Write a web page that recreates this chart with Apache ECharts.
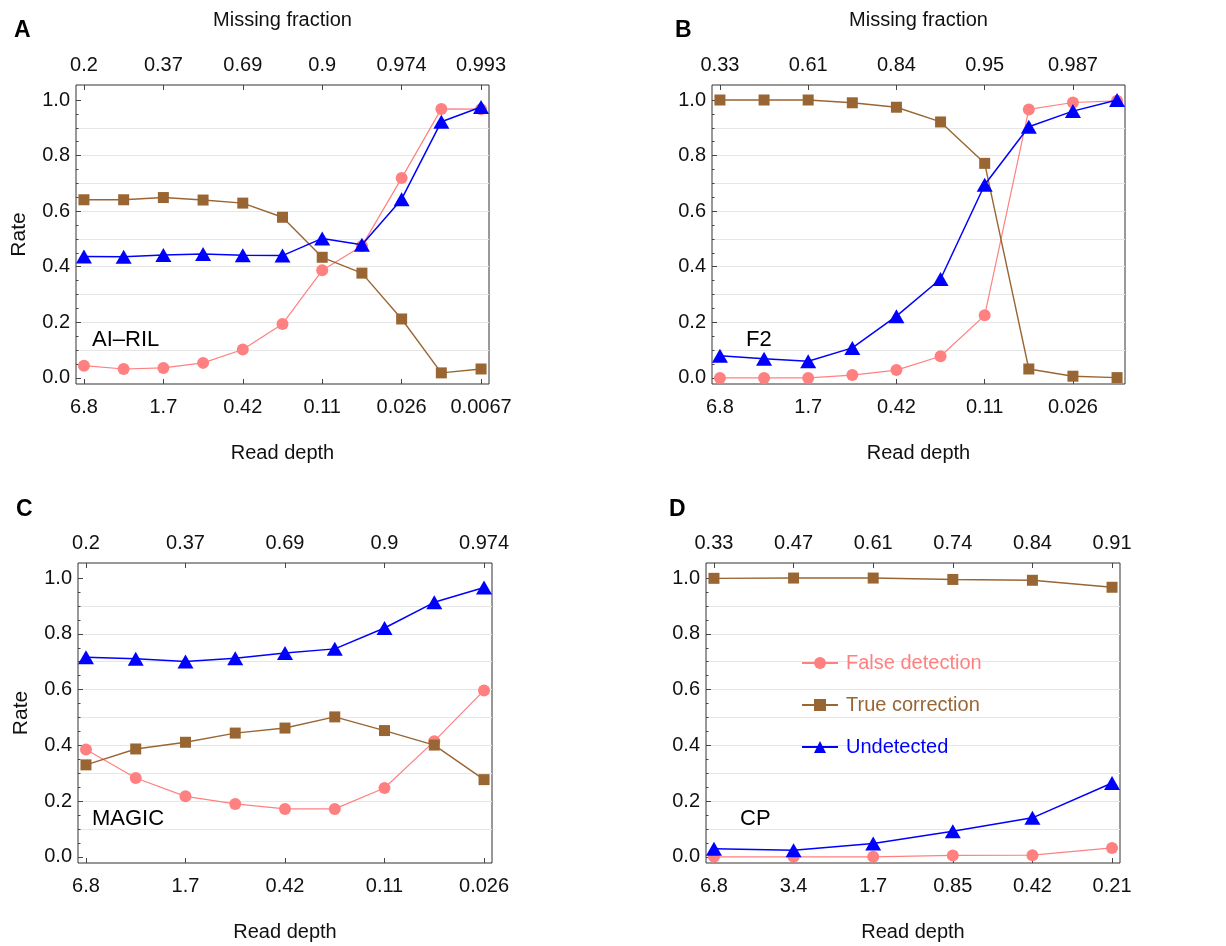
<!DOCTYPE html>
<html>
<head>
<meta charset="utf-8">
<script src="https://cdn.jsdelivr.net/npm/echarts@6/dist/echarts.min.js"></script>
<style>
  html, body { margin: 0; padding: 0; background: #ffffff; }
  #chart { width: 1226px; height: 946px; }
</style>
</head>
<body>
<div id="chart"></div>
<script>
// ---- Data -------------------------------------------------------------
const seriesNames = ['False detection', 'True correction', 'Undetected'];

// AI-RIL (panel A): read depth 6.8 ... 0.0067, halving each step
const falseDetA = [0.044, 0.032, 0.036, 0.054, 0.102, 0.194, 0.387, 0.475, 0.719, 0.968, 0.967];
const trueCorrA = [0.641, 0.641, 0.649, 0.640, 0.629, 0.578, 0.434, 0.377, 0.212, 0.018, 0.032];
const undetA    = [0.437, 0.436, 0.442, 0.446, 0.441, 0.440, 0.502, 0.479, 0.643, 0.922, 0.975];
const depthTicksA = ['6.8', '1.7', '0.42', '0.11', '0.026', '0.0067'];
const missTicksA  = ['0.2', '0.37', '0.69', '0.9', '0.974', '0.993'];

// F2 (panel B)
const falseDetB = [0.000, 0.000, 0.000, 0.010, 0.028, 0.078, 0.225, 0.966, 0.991, 0.997];
const trueCorrB = [1.000, 1.000, 1.000, 0.990, 0.974, 0.921, 0.772, 0.032, 0.006, 0.001];
const undetB    = [0.080, 0.069, 0.060, 0.108, 0.222, 0.356, 0.695, 0.904, 0.960, 1.000];
const depthTicksB = ['6.8', '1.7', '0.42', '0.11', '0.026'];
const missTicksB  = ['0.33', '0.61', '0.84', '0.95', '0.987'];

// MAGIC (panel C)
const falseDetC = [0.385, 0.283, 0.217, 0.190, 0.172, 0.172, 0.247, 0.415, 0.597];
const trueCorrC = [0.330, 0.387, 0.411, 0.444, 0.462, 0.502, 0.453, 0.401, 0.277];
const undetC    = [0.716, 0.711, 0.701, 0.712, 0.731, 0.746, 0.821, 0.913, 0.966];
const depthTicksC = ['6.8', '1.7', '0.42', '0.11', '0.026'];
const missTicksC  = ['0.2', '0.37', '0.69', '0.9', '0.974'];

// CP (panel D)
const falseDetD = [0.000, 0.000, 0.000, 0.005, 0.006, 0.032];
const trueCorrD = [0.999, 1.000, 1.000, 0.995, 0.992, 0.967];
const undetD    = [0.029, 0.024, 0.048, 0.092, 0.140, 0.265];
const depthTicksD = ['6.8', '3.4', '1.7', '0.85', '0.42', '0.21'];
const missTicksD  = ['0.33', '0.47', '0.61', '0.74', '0.84', '0.91'];

const rateTicks = [0, 0.2, 0.4, 0.6, 0.8, 1.0];

// ---- Styling ----------------------------------------------------------
const FONT = '"Liberation Sans", Arial, Helvetica, sans-serif';
const COLORS = ['#FF8080', '#996633', '#0000FF'];
const SYMBOLS = ['circle', 'rect', 'triangle'];
const SYMBOL_SIZES = [12, 11, [16, 14]];
const LINE_WIDTHS = [1.2, 1.4, 1.5];
const TEXT = '#111111';
const TICK = '#444444';
const LABEL_SIZE = 20;

const minorTicks = [];
for (let i = 0; i <= 20; i++) minorTicks.push(+(i * 0.05).toFixed(2));
const gridTicks = [];
for (let i = 1; i <= 9; i++) gridTicks.push(+(i * 0.1).toFixed(1));

const panels = [
  { letter: 'A', note: 'AI\u2013RIL', values: [falseDetA, trueCorrA, undetA], depth: depthTicksA, miss: missTicksA,
    step: 2, rate: true, missTitle: true,
    box: { left: 76, top: 85, width: 413, height: 299 }, letterPos: [14, 32], notePos: [92, 341] },
  { letter: 'B', note: 'F2', values: [falseDetB, trueCorrB, undetB], depth: depthTicksB, miss: missTicksB,
    step: 2, rate: false, missTitle: true,
    box: { left: 712, top: 85, width: 413, height: 299 }, letterPos: [675, 32], notePos: [746, 341] },
  { letter: 'C', note: 'MAGIC', values: [falseDetC, trueCorrC, undetC], depth: depthTicksC, miss: missTicksC,
    step: 2, rate: true, missTitle: false,
    box: { left: 78, top: 563, width: 414, height: 300 }, letterPos: [16, 511], notePos: [92, 820] },
  { letter: 'D', note: 'CP', values: [falseDetD, trueCorrD, undetD], depth: depthTicksD, miss: missTicksD,
    step: 1, rate: false, missTitle: false,
    box: { left: 706, top: 563, width: 414, height: 300 }, letterPos: [669, 511], notePos: [740, 820] }
];

const option = {
  animation: false,
  backgroundColor: '#ffffff',
  textStyle: { fontFamily: FONT },
  grid: [], xAxis: [], yAxis: [], series: [], graphic: [],
  legend: {
    show: true,
    orient: 'vertical',
    left: 801, top: 651,
    padding: 0,
    itemWidth: 36, itemHeight: 15, itemGap: 18,
    selectedMode: false,
    textStyle: { fontSize: 20, lineHeight: 24, fontFamily: FONT, padding: [0, 0, 0, 3] },
    data: seriesNames.map((nm, i) => ({ name: nm, textStyle: { color: COLORS[i] } }))
  }
};

panels.forEach((p, k) => {
  const n = p.values[0].length - 1;
  const pad = 0.02 * n;
  const tickIdx = p.depth.map((_, i) => i * p.step);
  const noLine = { show: false, onZero: false };

  option.grid.push(Object.assign({ show: true, borderColor: '#333333', borderWidth: 1, backgroundColor: 'transparent' }, p.box));

  const xBottom = option.xAxis.length;
  option.xAxis.push({
    gridIndex: k, type: 'value', position: 'bottom', min: -pad, max: n + pad,
    axisLine: noLine, splitLine: { show: false },
    axisTick: { show: true, inside: true, length: 5, customValues: tickIdx, lineStyle: { color: TICK, width: 1 } },
    axisLabel: { customValues: tickIdx, formatter: v => p.depth[Math.round(v / p.step)], fontSize: LABEL_SIZE, color: TEXT, margin: 13, fontFamily: FONT },
    name: 'Read depth', nameLocation: 'middle', nameGap: 59,
    nameTextStyle: { fontSize: 20, color: TEXT, fontFamily: FONT }
  });
  option.xAxis.push({
    gridIndex: k, type: 'value', position: 'top', min: -pad, max: n + pad,
    axisLine: noLine, splitLine: { show: false },
    axisTick: { show: true, inside: true, length: 5, customValues: tickIdx, lineStyle: { color: TICK, width: 1 } },
    axisLabel: { customValues: tickIdx, formatter: v => p.miss[Math.round(v / p.step)], fontSize: LABEL_SIZE, color: TEXT, margin: 10, fontFamily: FONT },
    name: p.missTitle ? 'Missing fraction' : '', nameLocation: 'middle', nameGap: 55,
    nameTextStyle: { fontSize: 20, color: TEXT, fontFamily: FONT }
  });

  const yMain = option.yAxis.length;
  const yBase = { gridIndex: k, type: 'value', position: 'left', min: -0.022, max: 1.054, axisLine: noLine };
  // labelled axis with major ticks
  option.yAxis.push(Object.assign({}, yBase, {
    splitLine: { show: false },
    axisTick: { show: true, inside: true, length: 5, customValues: rateTicks, lineStyle: { color: TICK, width: 1 } },
    axisLabel: { customValues: rateTicks, formatter: v => v.toFixed(1), fontSize: LABEL_SIZE, color: TEXT, margin: 6, fontFamily: FONT },
    name: p.rate ? 'Rate' : '', nameLocation: 'middle', nameGap: 46,
    nameTextStyle: { fontSize: 21, color: TEXT, fontFamily: FONT }
  }));
  // minor ticks
  option.yAxis.push(Object.assign({}, yBase, {
    splitLine: { show: false },
    axisTick: { show: true, inside: true, length: 2.5, customValues: minorTicks, lineStyle: { color: TICK, width: 1 } },
    axisLabel: { show: false }
  }));
  // horizontal grid lines
  option.yAxis.push(Object.assign({}, yBase, {
    axisTick: { show: false, customValues: gridTicks },
    axisLabel: { show: false },
    splitLine: { show: true, lineStyle: { color: '#e6e6e6', width: 1 } }
  }));

  p.values.forEach((vals, s) => {
    option.series.push({
      name: seriesNames[s],
      type: 'line',
      xAxisIndex: xBottom,
      yAxisIndex: yMain,
      data: vals.map((v, i) => [i, v]),
      symbol: SYMBOLS[s],
      symbolSize: SYMBOL_SIZES[s],
      showSymbol: true,
      clip: false,
      silent: true,
      z: 2 + s,
      lineStyle: { color: COLORS[s], width: LINE_WIDTHS[s] },
      itemStyle: { color: COLORS[s] },
      emphasis: { disabled: true }
    });
  });

  option.graphic.push({
    type: 'text', left: p.letterPos[0], top: p.letterPos[1] - 13,
    style: { text: p.letter, font: 'bold 23px ' + FONT, fill: '#000000' }
  });
  option.graphic.push({
    type: 'text', left: p.notePos[0], top: p.notePos[1] - 12,
    style: { text: p.note, font: '22px ' + FONT, fill: '#000000' }
  });
});

const chart = echarts.init(document.getElementById('chart'), null, { renderer: 'canvas' });
chart.setOption(option);
</script>
</body>
</html>
